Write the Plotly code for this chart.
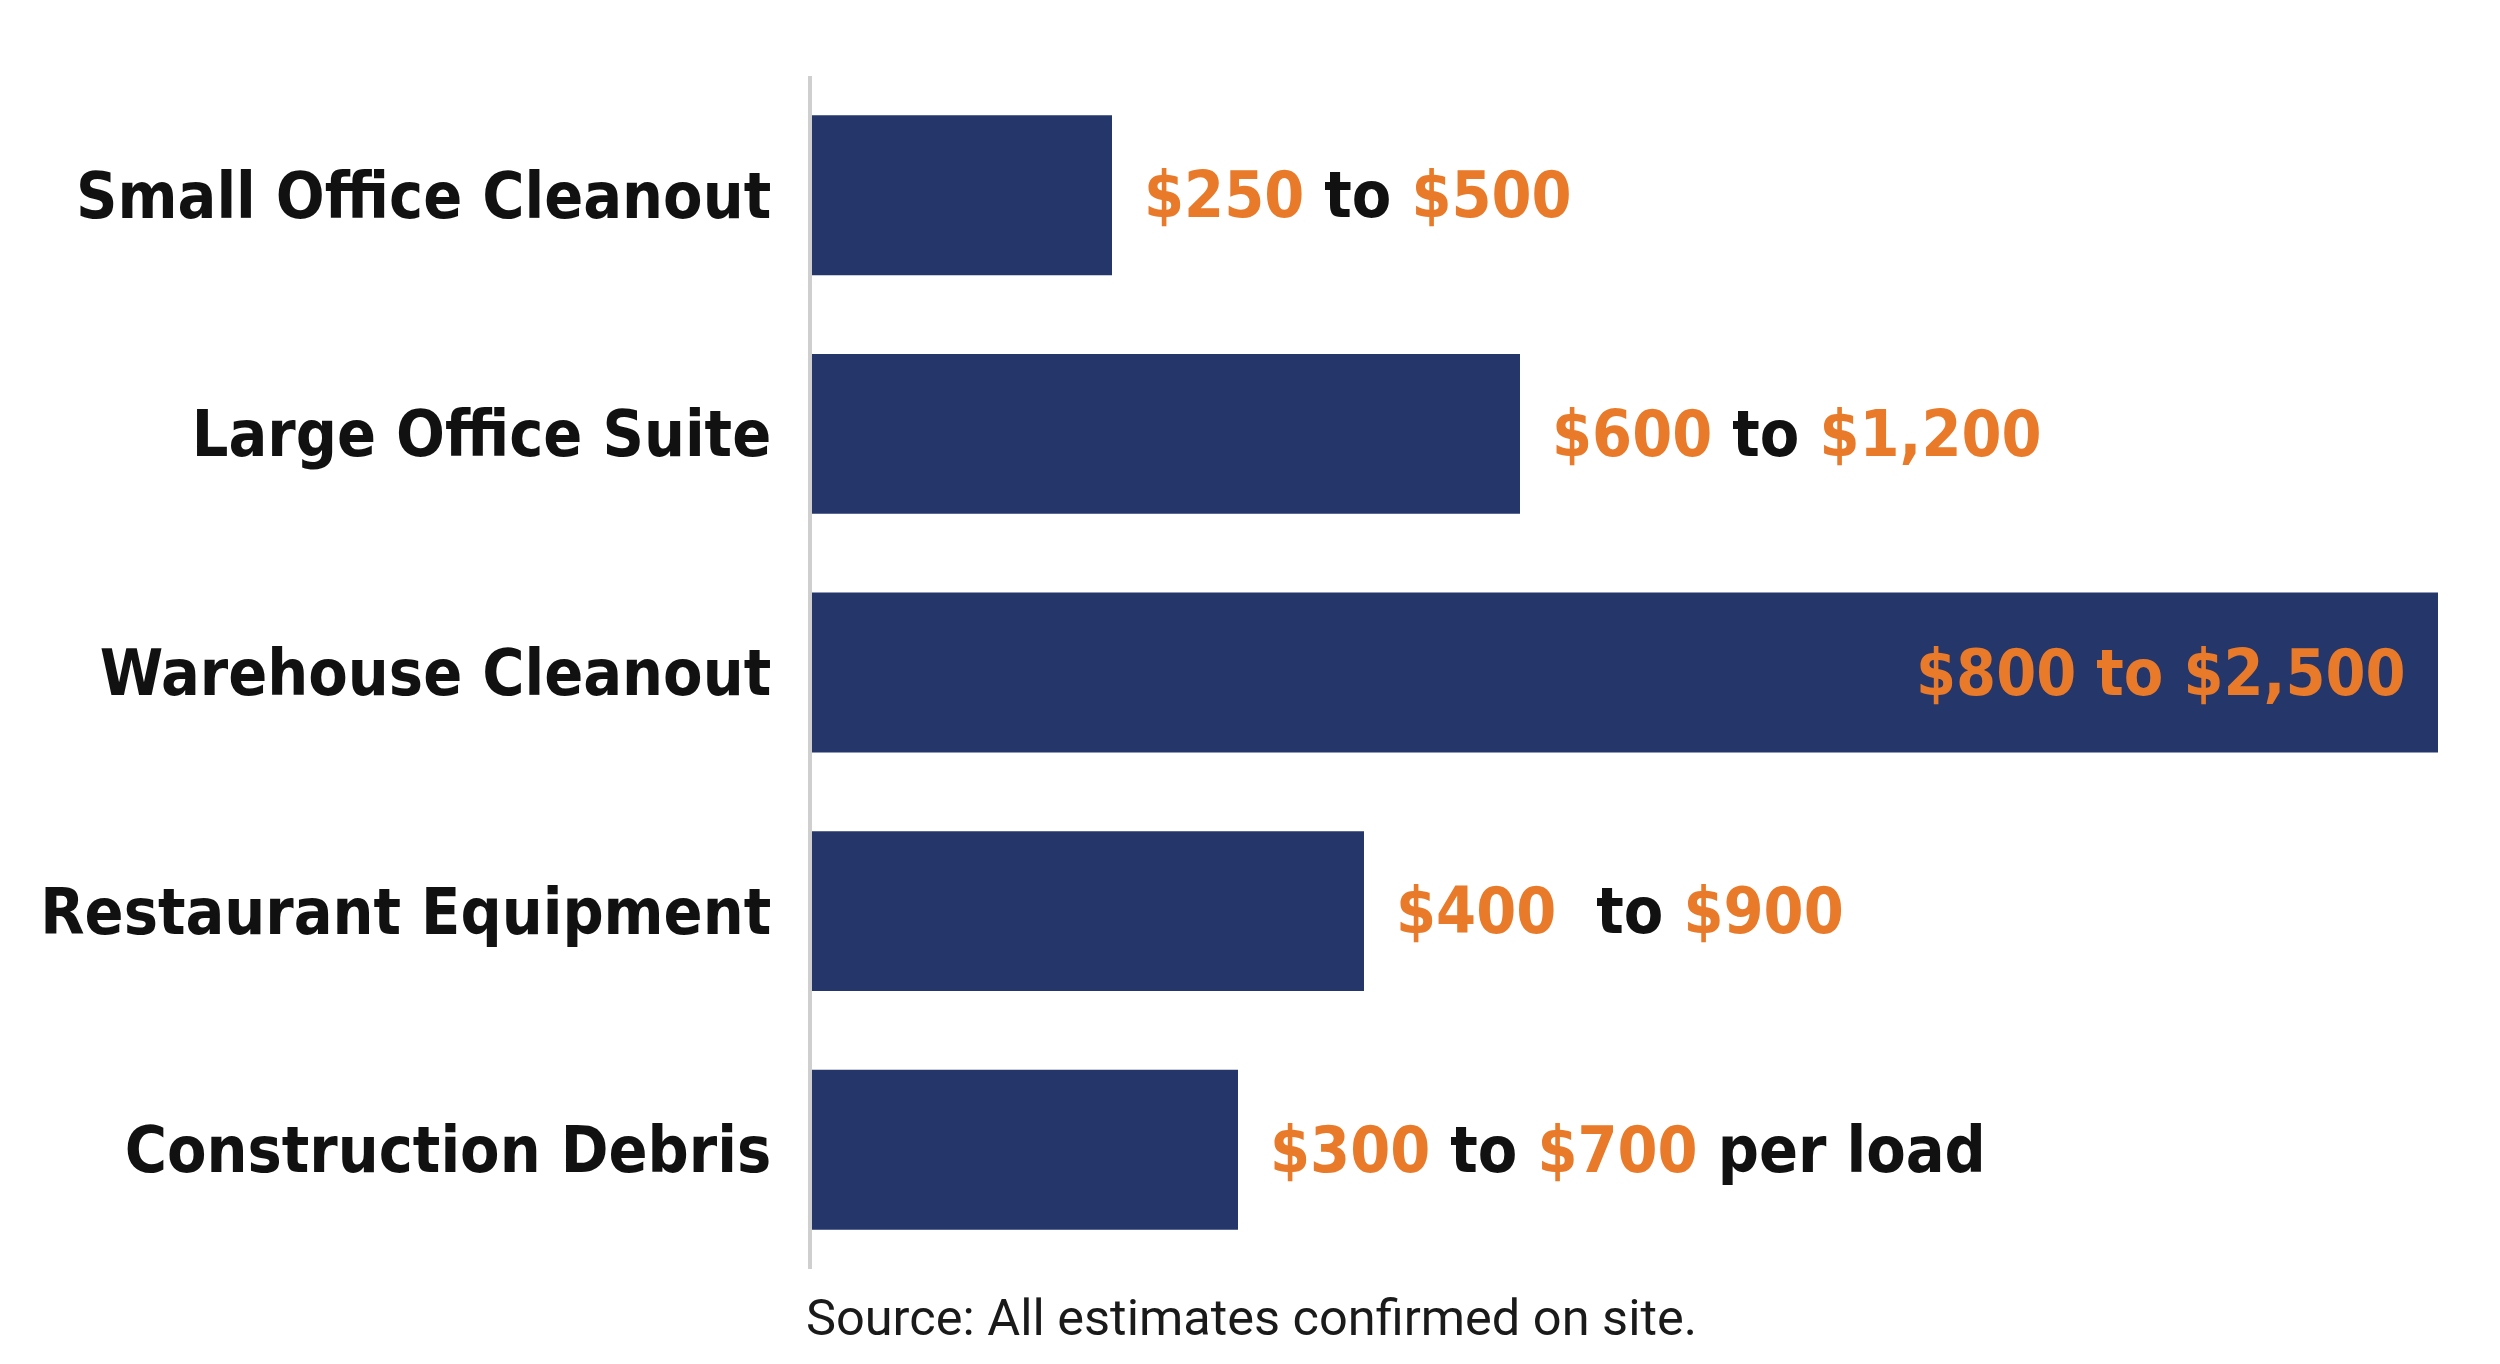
import plotly.graph_objects as go

# ---- data ----
categories = ["Small Office Cleanout", "Large Office Suite", "Warehouse Cleanout",
              "Restaurant Equipment", "Construction Debris"]
low_values = [250, 600, 800, 400, 300]
high_values = [500, 1200, 2500, 900, 700]
bar_lengths = [500, 1180, 2710, 920, 710]   # estimated bar lengths in $ as drawn
separators = [" to ", " to ", " to ", "&nbsp; to ", " to "]
suffixes = ["", "", "", "", " per load"]
label_inside = [False, False, True, False, False]
source_text = "Source: All estimates confirmed on site."

NAVY = "#24366A"
ORANGE = "#E87A2A"
BLACK = "#111111"
COND = "DejaVu Sans Condensed, Roboto, sans-serif"

W, H = 2500, 1364
L, R, T, B = 804, 28, 68, 103
px_per_dollar = 0.6
xmax = (W - L - R) / px_per_dollar

fig = go.Figure()
fig.add_trace(go.Bar(
    x=bar_lengths, y=categories, orientation="h",
    marker=dict(color=NAVY, line=dict(width=0)),
    width=0.67, hoverinfo="skip",
))

def money(v):
    return f"${v:,}"

for cat, lo, hi, bl, sep, suf, inside in zip(categories, low_values, high_values,
                                              bar_lengths, separators, suffixes,
                                              label_inside):
    if inside:
        txt = f"<span style='color:{ORANGE}'>{money(lo)}{sep}{money(hi)}{suf}</span>"
        fig.add_annotation(x=bl, y=cat, xref="x", yref="y", text=txt,
                           showarrow=False, xanchor="right", xshift=-30,
                           font=dict(family=COND, size=64, color=ORANGE, weight="bold"))
    else:
        txt = (f"<span style='color:{ORANGE}'>{money(lo)}</span>{sep}"
               f"<span style='color:{ORANGE}'>{money(hi)}</span>{suf}")
        fig.add_annotation(x=bl, y=cat, xref="x", yref="y", text=txt,
                           showarrow=False, xanchor="left", xshift=30,
                           font=dict(family=COND, size=64, color=BLACK, weight="bold"))

fig.add_annotation(x=0, y=-0.041, xref="x", yref="paper", text=source_text,
                   showarrow=False, xanchor="left", yanchor="middle", xshift=-8,
                   font=dict(family="Roboto", size=50.5, color="#1a1a1a"))

fig.update_layout(
    width=W, height=H,
    margin=dict(l=L, r=R, t=T, b=B),
    paper_bgcolor="white", plot_bgcolor="white",
    showlegend=False,
    bargap=0.33,
    xaxis=dict(range=[0, xmax], visible=False, fixedrange=True),
    yaxis=dict(
        categoryorder="array", categoryarray=categories,
        autorange="reversed", automargin=False,
        showline=True, linecolor="#cfcfcf", linewidth=4,
        showgrid=False, zeroline=False,
        ticks="outside", ticklen=24, tickcolor="rgba(0,0,0,0)",
        tickfont=dict(family=COND, size=64, color=BLACK, weight="bold"),
    ),
)

fig.write_html("out.html")
